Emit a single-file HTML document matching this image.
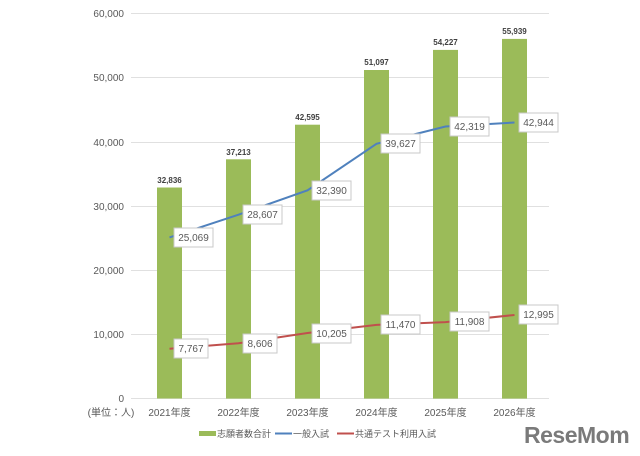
<!DOCTYPE html>
<html><head><meta charset="utf-8"><style>
body{margin:0;background:#fff}
svg text{font-family:"Liberation Sans","Noto Sans CJK JP",sans-serif}
</style></head><body>
<svg width="640" height="451" viewBox="0 0 640 451" xmlns="http://www.w3.org/2000/svg">
<g stroke="#e0e0e0" stroke-width="1">
<line x1="131" y1="13.5" x2="549" y2="13.5"/>
<line x1="131" y1="77.5" x2="549" y2="77.5"/>
<line x1="131" y1="142.5" x2="549" y2="142.5"/>
<line x1="131" y1="206.5" x2="549" y2="206.5"/>
<line x1="131" y1="270.5" x2="549" y2="270.5"/>
<line x1="131" y1="334.5" x2="549" y2="334.5"/>
<line x1="131" y1="398.5" x2="549" y2="398.5"/>
</g>
<g font-size="10" fill="#595959" text-anchor="end">
<text x="124" y="17">60,000</text>
<text x="124" y="81">50,000</text>
<text x="124" y="146">40,000</text>
<text x="124" y="210">30,000</text>
<text x="124" y="274">20,000</text>
<text x="124" y="338">10,000</text>
<text x="124" y="402">0</text>
</g>
<g fill="#9bbb59">
<rect x="157" y="187.5" width="25" height="211"/>
<rect x="226" y="159.3" width="25" height="239.3"/>
<rect x="295" y="124.7" width="25" height="273.9"/>
<rect x="364" y="70" width="25" height="328.6"/>
<rect x="433" y="49.9" width="25" height="348.7"/>
<rect x="502" y="38.9" width="25" height="359.7"/>
</g>
<g font-size="8" font-weight="bold" fill="#404040" text-anchor="middle">
<text x="169.5" y="183">32,836</text>
<text x="238.5" y="155">37,213</text>
<text x="307.5" y="120">42,595</text>
<text x="376.5" y="65">51,097</text>
<text x="445.5" y="45">54,227</text>
<text x="514.5" y="34">55,939</text>
</g>
<polyline fill="none" stroke="#4f81bd" stroke-width="2" points="169.5,237.4 238.5,214.7 307.5,190.3 376.5,143.8 445.5,126.5 514.5,122.5"/>
<polyline fill="none" stroke="#c0504d" stroke-width="2" points="169.5,348.7 238.5,343.3 307.5,333 376.5,324.9 445.5,322.1 514.5,315.0"/>
<g font-size="10" fill="#595959" text-anchor="middle">
<g stroke="#c8c8c8" fill="#fff">
<rect x="174" y="228" width="39" height="19"/>
<rect x="243" y="205" width="39" height="19"/>
<rect x="312" y="181" width="39" height="19"/>
<rect x="381" y="134" width="39" height="19"/>
<rect x="450" y="117" width="39" height="19"/>
<rect x="519" y="113" width="39" height="19"/>
<rect x="174" y="339" width="34" height="19"/>
<rect x="243" y="334" width="34" height="19"/>
<rect x="312" y="324" width="39" height="19"/>
<rect x="381" y="315" width="39" height="19"/>
<rect x="450" y="312" width="39" height="19"/>
<rect x="519" y="305" width="39" height="19"/>
</g>
<text x="193.5" y="241">25,069</text>
<text x="262.5" y="218">28,607</text>
<text x="331.5" y="194">32,390</text>
<text x="400.5" y="147">39,627</text>
<text x="469.5" y="130">42,319</text>
<text x="538.5" y="126">42,944</text>
<text x="191" y="352">7,767</text>
<text x="260" y="347">8,606</text>
<text x="331.5" y="337">10,205</text>
<text x="400.5" y="328">11,470</text>
<text x="469.5" y="325">11,908</text>
<text x="538.5" y="318">12,995</text>
</g>
<g font-size="10" fill="#595959" text-anchor="middle">
<text x="111" y="416">(単位：人)</text>
<text x="169.5" y="416">2021年度</text>
<text x="238.5" y="416">2022年度</text>
<text x="307.5" y="416">2023年度</text>
<text x="376.5" y="416">2024年度</text>
<text x="445.5" y="416">2025年度</text>
<text x="514.5" y="416">2026年度</text>
</g>
<rect x="199" y="431" width="17" height="5" fill="#9bbb59"/>
<text x="217" y="437" font-size="9" fill="#595959">志願者数合計</text>
<line x1="275" y1="433.5" x2="292" y2="433.5" stroke="#4f81bd" stroke-width="2"/>
<text x="293" y="437" font-size="9" fill="#595959">一般入試</text>
<line x1="337" y1="433.5" x2="354" y2="433.5" stroke="#c0504d" stroke-width="2"/>
<text x="355" y="437" font-size="9" fill="#595959">共通テスト利用入試</text>
<text x="524" y="443" font-size="23" font-weight="bold" fill="#7a7a7a" letter-spacing="-0.5">ReseMom</text>
</svg>
</body></html>
